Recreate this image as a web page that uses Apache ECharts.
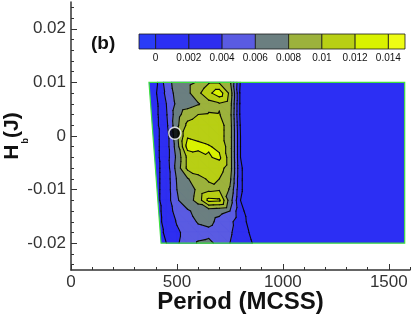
<!DOCTYPE html>
<html><head><meta charset="utf-8">
<script src="https://cdn.jsdelivr.net/npm/echarts@6/dist/echarts.min.js"></script>
<style>html,body{margin:0;padding:0;background:#fff}#c{width:415px;height:320px}</style>
</head><body><div id="c"></div>
<script>
// ---- data ----
const periods = [350, 400, 450, 500, 550, 600, 650, 700, 750, 800, 850, 900, 1575];
const fields = [0.01, 0.008, 0.006, 0.004, 0.002, 0, -0.002, -0.004, -0.006, -0.008, -0.01, -0.012, -0.014, -0.016, -0.018, -0.02];
const amplitude = [
  [0.001,0.0015,0.005,0.007,0.0075,0.0082,0.0098,0.0098,0.0085,0.0018,0.001,0.001,0.001],
  [0.001,0.0018,0.0045,0.0068,0.0075,0.0095,0.0115,0.0132,0.0095,0.0015,0.001,0.001,0.001],
  [0.001,0.0015,0.004,0.0065,0.007,0.0078,0.0092,0.0098,0.009,0.0015,0.001,0.001,0.001],
  [0.001,0.0015,0.0038,0.0072,0.0092,0.01,0.0102,0.0101,0.0088,0.0015,0.001,0.001,0.001],
  [0.001,0.0015,0.0035,0.0075,0.0105,0.011,0.011,0.0108,0.009,0.0018,0.001,0.001,0.001],
  [0.001,0.0015,0.003,0.0075,0.0118,0.0115,0.011,0.0108,0.009,0.002,0.001,0.001,0.001],
  [0.001,0.0015,0.003,0.007,0.0128,0.0125,0.0122,0.0115,0.009,0.002,0.001,0.001,0.001],
  [0.001,0.0015,0.003,0.0065,0.0105,0.0112,0.0118,0.0124,0.009,0.002,0.001,0.001,0.001],
  [0.001,0.0015,0.0028,0.0068,0.0105,0.0108,0.011,0.0108,0.009,0.0022,0.001,0.001,0.001],
  [0.001,0.0015,0.0028,0.0062,0.0078,0.0095,0.0102,0.01,0.0085,0.0022,0.001,0.001,0.001],
  [0.001,0.0015,0.0028,0.006,0.0068,0.0085,0.0095,0.0098,0.0078,0.0022,0.001,0.001,0.001],
  [0.001,0.0015,0.0028,0.0058,0.007,0.0088,0.0126,0.0124,0.007,0.002,0.001,0.001,0.001],
  [0.001,0.0015,0.0025,0.005,0.0058,0.0065,0.0068,0.0065,0.006,0.0025,0.001,0.001,0.001],
  [0.001,0.0015,0.0024,0.0042,0.005,0.0062,0.0065,0.0055,0.0046,0.0026,0.0015,0.001,0.001],
  [0.001,0.0015,0.0022,0.0036,0.0048,0.0052,0.0055,0.005,0.0043,0.0028,0.0018,0.001,0.001],
  [0.001,0.0015,0.002,0.0038,0.0048,0.0062,0.0064,0.0055,0.004,0.0027,0.0021,0.0012,0.001]
];
const levels = [0, 0.002, 0.004, 0.006, 0.008, 0.01, 0.012, 0.014];
const colorbarEdges = [-0.001, 0, 0.002, 0.004, 0.006, 0.008, 0.01, 0.012, 0.014, 0.015];
const domainLeftTop = [368, 0.01];
const domainLeftBottom = [425, -0.02];
const domainRight = 1575;
const markerPoint = [490, 0.0005];
const xTickLabels = [0, 500, 1000, 1500];
const yTickLabels = [-0.02, -0.01, 0, 0.01, 0.02];
const colorbarLabels = [0, 0.002, 0.004, 0.006, 0.008, 0.01, 0.012, 0.014];

// ---- styles ----
const bandColors = ['#2a3cf7', '#2c2ff4', '#2e2ef0', '#5a5be2', '#6b7f80', '#9cb23c', '#b8cf14', '#d9f200', '#eefc14'];
const FONT = "'Liberation Sans', Arial, sans-serif";
const AX = '#333';

function near(v, list) { return list.some(t => Math.abs(t - v) < 1e-9); }

function leftF(p) {
  const t = (domainLeftTop[1] - p.y) / (domainLeftTop[1] - domainLeftBottom[1]);
  return p.x - (domainLeftTop[0] + t * (domainLeftBottom[0] - domainLeftTop[0]));
}
function clip(poly, f) {
  const out = [];
  for (let i = 0; i < poly.length; i++) {
    const a = poly[i], b = poly[(i + 1) % poly.length];
    const fa = f(a), fb = f(b);
    if (fa >= 0) out.push(a);
    if ((fa >= 0) !== (fb >= 0)) {
      const t = fa / (fa - fb);
      out.push({ x: a.x + t * (b.x - a.x), y: a.y + t * (b.y - a.y), v: a.v + t * (b.v - a.v) });
    }
  }
  return out;
}

function renderContour(params, api) {
  const fills = [], lines = [];
  const node = (r, c) => ({ x: periods[c], y: fields[r], v: amplitude[r][c] });
  const tris = [];
  for (let r = 0; r < fields.length - 1; r++) {
    for (let c = 0; c < periods.length - 1; c++) {
      const A = node(r, c), B = node(r, c + 1), C = node(r + 1, c + 1), D = node(r + 1, c);
      tris.push([A, B, C], [A, C, D]);
    }
  }
  const px = p => api.coord([p.x, p.y]);
  const outline = [domainLeftTop, [domainRight, domainLeftTop[1]], [domainRight, domainLeftBottom[1]], domainLeftBottom].map(p => api.coord(p));
  fills.push({ type: 'polygon', shape: { points: outline }, style: { fill: bandColors[1] } });
  tris.forEach(tri => {
    for (let k = 2; k <= levels.length; k++) {
      let poly = clip(tri, p => p.v - levels[k - 1]);
      if (poly.length >= 3) poly = clip(poly, leftF);
      if (poly.length >= 3) {
        fills.push({ type: 'polygon', z2: k, shape: { points: poly.map(px) },
          style: { fill: bandColors[k], stroke: bandColors[k], lineWidth: 1 } });
      }
    }
    levels.forEach(L => {
      if (L <= 0) return;
      const pts = [];
      for (let i = 0; i < 3; i++) {
        const a = tri[i], b = tri[(i + 1) % 3];
        if ((a.v >= L) !== (b.v >= L)) {
          const t = (L - a.v) / (b.v - a.v);
          pts.push({ x: a.x + t * (b.x - a.x), y: a.y + t * (b.y - a.y) });
        }
      }
      if (pts.length === 2) {
        let [p, q] = pts;
        const fp = leftF(p), fq = leftF(q);
        if (fp < 0 && fq < 0) return;
        if (fp < 0 || fq < 0) {
          const t = fp / (fp - fq);
          const m = { x: p.x + t * (q.x - p.x), y: p.y + t * (q.y - p.y) };
          if (fp < 0) p = m; else q = m;
        }
        const P = px(p), Q = px(q);
        lines.push({ type: 'line', z2: 20, shape: { x1: P[0], y1: P[1], x2: Q[0], y2: Q[1] },
          style: { stroke: '#0a0a0a', lineWidth: 1.1, lineCap: 'round' } });
      }
    });
  });
  const border = { type: 'polygon', z2: 30, shape: { points: outline }, style: { fill: 'none', stroke: '#3fe03f', lineWidth: 1.2 } };
  return { type: 'group', children: fills.concat(lines, [border]) };
}

function renderColorbar(params, api) {
  const lo = api.value(0), hi = api.value(1), idx = api.value(2);
  const p0 = api.coord([lo, 1]), p1 = api.coord([hi, 0]);
  return { type: 'rect', shape: { x: p0[0], y: p0[1], width: p1[0] - p0[0], height: p1[1] - p0[1] },
    style: { fill: bandColors[idx], stroke: '#1a1a1a', lineWidth: 0.8 } };
}
const colorbarData = [];
for (let i = 0; i < colorbarEdges.length - 1; i++) colorbarData.push([colorbarEdges[i], colorbarEdges[i + 1], i]);

const hidden = { show: false };
const H = 268, W = 339;
const yPx = H / 0.05;
const xPx = W / 1600;
const G = { outerBoundsMode: 'none', containLabel: false };

const helperAxis = (extra) => Object.assign({ type: 'value', axisLine: hidden, axisLabel: hidden, splitLine: hidden, splitArea: hidden, axisTick: hidden }, extra);

const chart = echarts.init(document.getElementById('c'), null, { renderer: 'canvas' });
chart.setOption({
  animation: false,
  backgroundColor: '#fff',
  grid: [
    Object.assign({ left: 71, right: 5, top: 2, bottom: 50 }, G),
    Object.assign({ left: 71, right: 5, top: 2 + 0.001 * yPx, bottom: 50 + 0.001 * yPx }, G),
    Object.assign({ left: 71, right: 5, top: 2 + 0.005 * yPx, bottom: 50 + 0.005 * yPx }, G),
    Object.assign({ left: 71, right: 5 + 100 * xPx, top: 2, bottom: 50 }, G),
    Object.assign({ left: 139, right: 10, top: 34, height: 15 }, G)
  ],
  xAxis: [
    { gridIndex: 0, type: 'value', min: 0, max: 1600, interval: 100,
      axisLine: { onZero: false, lineStyle: { color: AX, width: 1.5 } },
      axisTick: { inside: true, length: 3, lineStyle: { color: AX } },
      splitLine: hidden,
      axisLabel: { margin: 4, fontSize: 17, color: '#333', fontFamily: FONT,
        formatter: v => near(v, xTickLabels) ? String(v) : '' },
      name: 'Period (MCSS)', nameLocation: 'middle', nameGap: 20, nameMoveOverlap: false,
      nameTextStyle: { fontSize: 24, fontWeight: 'bold', color: '#111', fontFamily: FONT } },
    helperAxis({ gridIndex: 1, min: 0, max: 1600 }),
    helperAxis({ gridIndex: 2, min: 0, max: 1600 }),
    helperAxis({ gridIndex: 3, min: 0, max: 1500, interval: 500,
      axisLine: { show: false, onZero: false },
      axisTick: { show: true, inside: true, length: 6, lineStyle: { color: AX } } }),
    { gridIndex: 4, type: 'value', min: -0.001, max: 0.015, interval: 0.001,
      axisLine: hidden, axisTick: hidden, splitLine: hidden,
      axisLabel: { margin: 4, fontSize: 10, color: '#111', fontFamily: FONT,
        formatter: v => near(v, colorbarLabels) ? String(+v.toFixed(3)) : '' } }
  ],
  yAxis: [
    { gridIndex: 0, type: 'value', min: -0.025, max: 0.025, interval: 0.005,
      axisLine: { show: true, onZero: false, lineStyle: { color: AX, width: 1.5 } },
      axisTick: hidden, splitLine: hidden,
      axisLabel: { margin: 5, fontSize: 17, color: '#333', fontFamily: FONT,
        formatter: v => near(v, yTickLabels) ? String(+v.toFixed(2)) : '' },
      name: '{h|H}{s|b}{h|(J)}', nameLocation: 'middle', nameRotate: 90, nameGap: 45, nameMoveOverlap: false,
      nameTextStyle: { rich: {
        h: { fontSize: 21, fontWeight: 'bold', color: '#111', fontFamily: FONT, lineHeight: 24, verticalAlign: 'top' },
        s: { fontSize: 9, fontWeight: 'bold', color: '#111', fontFamily: FONT, lineHeight: 9, verticalAlign: 'top', padding: [19, 0, 0, 1] }
      } } },
    helperAxis({ gridIndex: 1, min: -0.024, max: 0.024, interval: 0.002,
      axisLine: { show: false, onZero: false },
      axisTick: { show: true, inside: true, length: 3, lineStyle: { color: AX } } }),
    helperAxis({ gridIndex: 2, min: -0.02, max: 0.02, interval: 0.01,
      axisLine: { show: false, onZero: false },
      axisTick: { show: true, inside: true, length: 6, lineStyle: { color: AX } } }),
    helperAxis({ gridIndex: 3, min: -0.025, max: 0.025 }),
    helperAxis({ gridIndex: 4, min: 0, max: 1 })
  ],
  graphic: [
    { type: 'text', left: 91, top: 34, style: { text: '(b)', fontSize: 19, fontWeight: 'bold', fill: '#111', fontFamily: FONT } }
  ],
  series: [
    { type: 'custom', xAxisIndex: 0, yAxisIndex: 0, renderItem: renderContour, data: [[1000, 0]], silent: true, z: 2, clip: false },
    { type: 'scatter', xAxisIndex: 0, yAxisIndex: 0, data: [markerPoint], symbol: 'circle', symbolSize: 12,
      itemStyle: { color: '#000', borderColor: '#fff', borderWidth: 1.5 }, silent: true, z: 5 },
    { type: 'custom', xAxisIndex: 4, yAxisIndex: 4, renderItem: renderColorbar, data: colorbarData, silent: true, z: 3 }
  ]
});
</script></body></html>
